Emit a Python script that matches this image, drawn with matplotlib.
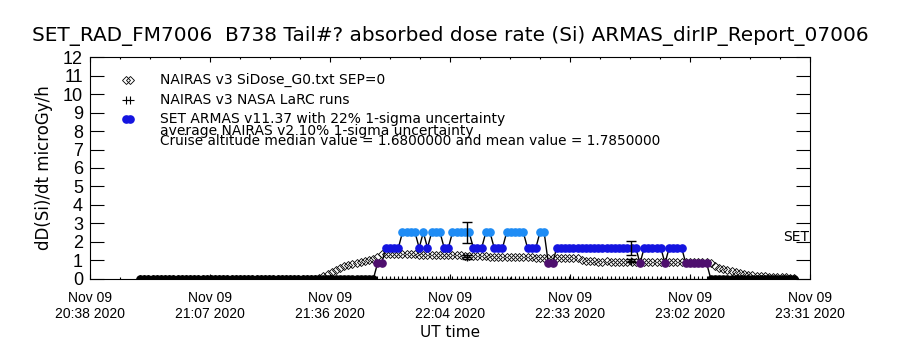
import matplotlib
matplotlib.use('Agg')
import matplotlib.pyplot as plt
from matplotlib.ticker import MultipleLocator, FixedLocator

# minutes after 20:38:30 UT, one sample per minute
t_min = list(range(12, 170))

# SET ARMAS dose rate (quantised levels), minutes 12..169
set_armas = [
    0, 0, 0, 0, 0, 0, 0, 0, 0, 0,                 # 12-21
    0, 0, 0, 0, 0, 0, 0, 0, 0, 0,                 # 22-31
    0, 0, 0, 0, 0, 0, 0, 0, 0, 0,                 # 32-41
    0, 0, 0, 0, 0, 0, 0, 0, 0, 0,                 # 42-51
    0, 0, 0, 0, 0, 0, 0, 0, 0, 0,                 # 52-61
    0, 0, 0, 0, 0, 0, 0,                          # 62-68
    0.84, 0.84, 1.68, 1.68, 1.68, 1.68, 2.52, 2.52, 2.52, 2.52,   # 69-78
    1.68, 2.52, 1.68, 2.52, 2.52, 2.52, 1.68, 1.68, 2.52, 2.52,   # 79-88
    2.52, 2.52, 2.52, 1.68, 1.68, 1.68, 2.52, 2.52, 1.68, 1.68,   # 89-98
    1.68, 2.52, 2.52, 2.52, 2.52, 2.52, 1.68, 1.68, 1.68, 2.52,   # 99-108
    2.52, 0.84, 0.84, 1.68, 1.68, 1.68, 1.68, 1.68, 1.68, 1.68,   # 109-118
    1.68, 1.68, 1.68, 1.68, 1.68, 1.68, 1.68, 1.68, 1.68, 1.68,   # 119-128
    1.68, 1.68, 1.68, 0.84, 1.68, 1.68, 1.68, 1.68, 1.68, 0.84,   # 129-138
    1.68, 1.68, 1.68, 1.68, 0.84, 0.84, 0.84, 0.84, 0.84, 0.84,   # 139-148
    0, 0, 0, 0, 0, 0, 0, 0, 0, 0,                 # 149-158
    0, 0, 0, 0, 0, 0, 0, 0, 0, 0, 0,              # 159-169
]

# NAIRAS v3 SiDose_G0 model, minutes 12..169
nairas_g0 = [
    0, 0, 0, 0, 0, 0, 0, 0, 0, 0,
    0, 0, 0, 0, 0, 0, 0, 0, 0, 0,
    0, 0, 0, 0, 0, 0, 0, 0, 0, 0,
    0, 0, 0, 0, 0, 0, 0, 0, 0, 0,
    0.0, 0.0, 0.02, 0.07, 0.17, 0.28, 0.40, 0.50, 0.60, 0.70,
    0.78, 0.83, 0.87, 0.91, 0.96, 1.02, 1.10, 1.20, 1.33, 1.35,
    1.35, 1.34, 1.34, 1.33, 1.34, 1.33, 1.33, 1.32, 1.32, 1.31,
    1.31, 1.30, 1.30, 1.29, 1.29, 1.28, 1.28, 1.27, 1.26, 1.25,
    1.24, 1.23, 1.22, 1.22, 1.21, 1.20, 1.20, 1.19, 1.19, 1.18,
    1.18, 1.17, 1.17, 1.16, 1.16, 1.15, 1.15, 1.15, 1.14, 1.14,
    1.14, 1.13, 1.13, 1.12, 1.12, 1.11, 1.05, 0.97, 0.95, 0.95,
    0.94, 0.94, 0.95, 0.94, 0.94, 0.94, 0.93, 0.94, 0.94, 0.93,
    0.93, 0.94, 0.93, 0.93, 0.93, 0.92, 0.93, 0.93, 0.92, 0.93,
    0.93, 0.93, 0.92, 0.92, 0.92, 0.91, 0.90, 0.84, 0.70, 0.60,
    0.52, 0.46, 0.41, 0.36, 0.32, 0.28, 0.24, 0.21, 0.18, 0.16,
    0.14, 0.12, 0.11, 0.10, 0.09, 0.08, 0.07, 0.06,
]

# LaRC runs sit at zero except for the two comparison points
larc_base = [0.0 for _ in t_min]
larc_t = [90.5, 129.8]
larc_armas = [2.52, 1.68]
larc_armas_err = [0.55, 0.37]
larc_nairas = [1.20, 0.99]
larc_nairas_err = [0.12, 0.10]

levels = [0.0, 0.84, 1.68, 2.52]
level_cols = ['black', '#4e0f6e', '#1414e0', '#1e8cf5']

xtick_pos = [0, 28.8, 57.6, 86.4, 115.2, 144.0, 172.8]
xtick_lab = ['Nov 09\n20:38 2020', 'Nov 09\n21:07 2020', 'Nov 09\n21:36 2020',
             'Nov 09\n22:04 2020', 'Nov 09\n22:33 2020', 'Nov 09\n23:02 2020',
             'Nov 09\n23:31 2020']

leg_labels = ['NAIRAS v3 SiDose_G0.txt SEP=0',
              'NAIRAS v3 NASA LaRC runs',
              'SET ARMAS v11.37 with 22% 1-sigma uncertainty']
note1 = 'average NAIRAS v2 10% 1-sigma uncertainty'
note2 = 'Cruise altitude median value = 1.6800000 and mean value = 1.7850000'

title = 'SET_RAD_FM7006  B738 Tail#? absorbed dose rate (Si) ARMAS_dirIP_Report_07006'

tickfont = ['Liberation Sans', 'DejaVu Sans']

fig = plt.figure(figsize=(9, 3.5), dpi=100)
ax = fig.add_axes([0.1, 0.203, 0.8, 0.634])

ax.plot(t_min, nairas_g0, ls='none', marker='D', ms=4, mfc='none', mec='black', mew=0.6)
ax.plot(t_min, larc_base, ls='none', marker='+', ms=5, color='black', mew=0.8)
ax.plot(t_min, set_armas, color='black', lw=1)
for lv, c in zip(levels, level_cols):
    tt = [t for t, v in zip(t_min, set_armas) if v == lv]
    vv = [v for v in set_armas if v == lv]
    ax.plot(tt, vv, ls='none', marker='o', ms=5.2, color=c, mec=c)

ax.errorbar(larc_t, larc_armas, yerr=larc_armas_err, fmt='none', ecolor='black',
            elinewidth=1, capsize=3.5, capthick=1)
ax.errorbar(larc_t, larc_nairas, yerr=larc_nairas_err, fmt='+', color='black', ms=6,
            elinewidth=1, capsize=3.5, capthick=1)

# legend
lx = [0.05, 0.056]
ax.plot(lx, [0.896, 0.896], transform=ax.transAxes, ls='none', marker='D', ms=4,
        mfc='none', mec='black', mew=0.6, clip_on=False)
ax.plot(lx, [0.806, 0.806], transform=ax.transAxes, ls='none', marker='+', ms=6,
        color='black', mew=0.8, clip_on=False)
ax.plot(lx, [0.72, 0.72], transform=ax.transAxes, ls='none', marker='o', ms=5.2,
        color='#1414e0', clip_on=False)
for yy, s in zip([0.896, 0.806, 0.72], leg_labels):
    ax.text(0.097, yy, s, transform=ax.transAxes, va='center', fontsize=10)
ax.text(0.097, 0.665, note1, transform=ax.transAxes, va='center', fontsize=10)
ax.text(0.097, 0.622, note2, transform=ax.transAxes, va='center', fontsize=9.8)

ax.text(0.999, 0.187, 'SET', transform=ax.transAxes, ha='right', va='center', fontsize=10)

ax.set_xlim(0, 172.8)
ax.set_ylim(0, 12)
ax.xaxis.set_major_locator(FixedLocator(xtick_pos))
ax.set_xticklabels(xtick_lab, family=tickfont, fontsize=10, linespacing=1.15)
ax.xaxis.set_minor_locator(MultipleLocator(7.2))
ax.yaxis.set_major_locator(MultipleLocator(1))
for lab in ax.get_yticklabels():
    lab.set_family(tickfont)
    lab.set_fontsize(13)
ax.tick_params(direction='in', top=True, right=True, which='both', width=0.8)
ax.tick_params(axis='x', which='major', length=3.3, pad=9)
ax.tick_params(axis='x', which='minor', length=1.7)
ax.tick_params(axis='y', length=10.4, pad=5)
for sp in ax.spines.values():
    sp.set_linewidth(0.8)

ax.set_xlabel('UT time', fontsize=11, labelpad=3)
ax.set_ylabel('dD(Si)/dt microGy/h', fontsize=12, labelpad=7)
fig.text(0.5, 0.897, title, ha='center', va='center', fontsize=14.4)

fig.savefig('out.png', dpi=100)
